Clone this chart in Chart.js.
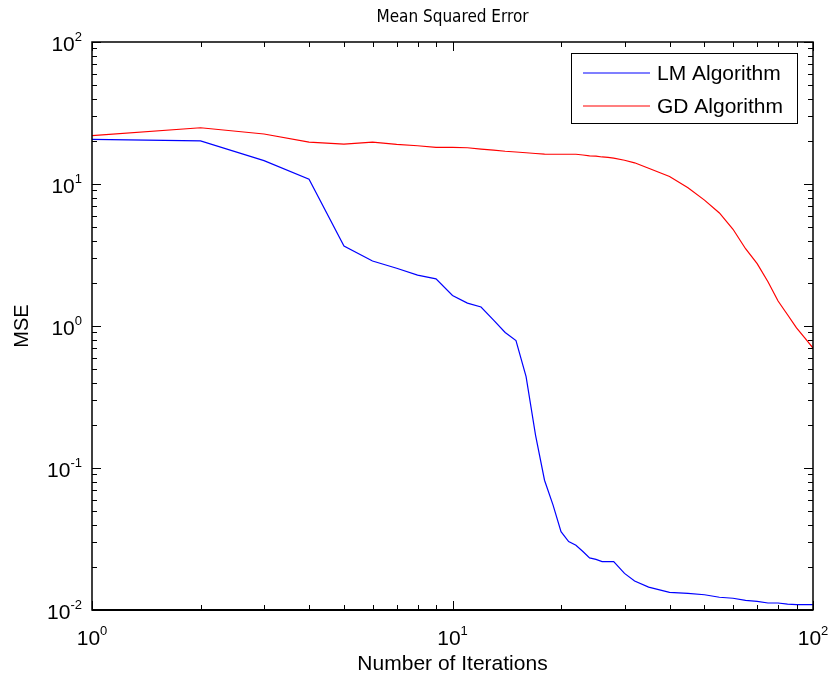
<!DOCTYPE html>
<html>
<head>
<meta charset="utf-8">
<title>Mean Squared Error</title>
<script src="https://cdn.jsdelivr.net/npm/chart.js@4.4.1/dist/chart.umd.min.js"></script>
<style>
  html, body { margin: 0; padding: 0; background: #fff; }
  canvas { display: block; }
</style>
</head>
<body>
<canvas id="mse-chart" width="832" height="682"></canvas>
<script>
// Training error per iteration
var iterations = [1, 2, 3, 4, 5, 6, 7, 8, 9, 10, 11, 12, 13, 14, 15, 16, 17, 18, 19, 20,
    21, 22, 23, 24, 25, 26, 27, 28, 30, 32, 35, 40, 45, 50, 55, 60, 65, 70, 75, 80,
    85, 90, 95, 100];

var lmMse = [20.6, 20.1, 14.6, 10.8, 3.66, 2.87, 2.55, 2.28, 2.15, 1.64, 1.45, 1.36, 1.10, 0.90,
    0.79, 0.44, 0.17, 0.082, 0.055, 0.0356, 0.0303, 0.0286, 0.0258, 0.0233, 0.0227, 0.0219,
    0.0219, 0.0219, 0.0181, 0.0160, 0.0145, 0.0133, 0.0131, 0.0128, 0.0123, 0.0121, 0.0117,
    0.0115, 0.0112, 0.0112, 0.0110, 0.0109, 0.0109, 0.0109];

var gdMse = [21.9, 24.9, 22.5, 19.7, 19.1, 19.7, 19.0, 18.6, 18.1, 18.1, 18.0, 17.6, 17.3, 17.0,
    16.8, 16.6, 16.4, 16.25, 16.2, 16.2, 16.2, 16.2, 16.0, 15.8, 15.7, 15.5, 15.4, 15.2, 14.7,
    14.1, 12.9, 11.3, 9.4, 7.7, 6.25, 4.8, 3.5, 2.75, 2.05, 1.5, 1.2, 0.97, 0.82, 0.70];

var seriesNames = ['LM Algorithm', 'GD Algorithm'];
var seriesColors = ['#0000ff', '#ff0000'];
var chartTitle = 'Mean Squared Error';

// Major ticks (powers of ten) and the exponent shown on each label
var xMajorTicks = [1, 10, 100];
var xTickExponents = ['0', '1', '2'];
var yMajorTicks = [0.01, 0.1, 1, 10, 100];
var yTickExponents = ['-2', '-1', '0', '1', '2'];

var FONT = '"Liberation Sans", Arial, Helvetica, sans-serif';
var TITLE_FONT = '"Liberation Sans Narrow", "DejaVu Sans Condensed", "Liberation Sans", Arial, sans-serif';

function toPoints(values) {
    return iterations.map(function(n, i) {
        return { x: n, y: values[i] };
    });
}

// 2..9 times every decade between the majors
function minorTicks(majors) {
    var out = [];
    for (var i = 0; i < majors.length - 1; i++) {
        for (var m = 2; m <= 9; m++) {
            out.push(majors[i] * m);
        }
    }
    return out;
}

// "10" with a raised exponent, laid out from a left x
function drawPower(ctx, exp, left, baseline) {
    ctx.font = '21px ' + FONT;
    ctx.textAlign = 'left';
    ctx.textBaseline = 'alphabetic';
    var w10 = ctx.measureText('10').width;
    ctx.fillText('10', left, baseline);
    ctx.font = '13px ' + FONT;
    ctx.fillText(exp, left + w10, baseline - 10);
}

function powerWidth(ctx, exp) {
    ctx.font = '21px ' + FONT;
    var w = ctx.measureText('10').width;
    ctx.font = '13px ' + FONT;
    return w + ctx.measureText(exp).width;
}

// MATLAB-like box: inward ticks on all four sides, power labels, title, legend
var framePlugin = {
    id: 'matlabFrame',
    afterDraw: function(chart) {
        var ctx = chart.ctx;
        var a = chart.chartArea;
        var xs = chart.scales.x;
        var ys = chart.scales.y;

        ctx.save();
        ctx.strokeStyle = '#000';
        ctx.fillStyle = '#000';
        ctx.lineWidth = 1;

        // ticks
        ctx.beginPath();
        function xTick(v, len) {
            var px = Math.round(xs.getPixelForValue(v)) + 0.5;
            ctx.moveTo(px, a.bottom); ctx.lineTo(px, a.bottom - len);
            ctx.moveTo(px, a.top); ctx.lineTo(px, a.top + len);
        }
        function yTick(v, len) {
            var py = Math.round(ys.getPixelForValue(v)) + 0.5;
            ctx.moveTo(a.left, py); ctx.lineTo(a.left + len, py);
            ctx.moveTo(a.right, py); ctx.lineTo(a.right - len, py);
        }
        xMajorTicks.forEach(function(v) { xTick(v, 9); });
        minorTicks(xMajorTicks).forEach(function(v) { xTick(v, 5); });
        yMajorTicks.forEach(function(v) { yTick(v, 9); });
        minorTicks(yMajorTicks).forEach(function(v) { yTick(v, 5); });
        ctx.stroke();

        // box
        ctx.lineWidth = 1.5;
        ctx.strokeRect(a.left, a.top, a.right - a.left, a.bottom - a.top);
        ctx.lineWidth = 2;
        ctx.beginPath();
        ctx.moveTo(a.left, a.bottom);
        ctx.lineTo(a.right, a.bottom);
        ctx.stroke();

        // tick labels
        xMajorTicks.forEach(function(v, i) {
            var px = xs.getPixelForValue(v);
            var w = powerWidth(ctx, xTickExponents[i]);
            drawPower(ctx, xTickExponents[i], px - w / 2, a.bottom + 35);
        });
        yMajorTicks.forEach(function(v, i) {
            var py = ys.getPixelForValue(v);
            var w = powerWidth(ctx, yTickExponents[i]);
            drawPower(ctx, yTickExponents[i], a.left - 10 - w, py + 8.5);
        });

        // title, centred over the axes box
        ctx.font = '17px ' + TITLE_FONT;
        ctx.textAlign = 'center';
        ctx.textBaseline = 'middle';
        ctx.fillText(chartTitle, (a.left + a.right) / 2, 18);

        // legend box
        var lx = 571, ly = 53, lw = 226, lh = 70;
        ctx.fillStyle = '#fff';
        ctx.fillRect(lx, ly, lw, lh);
        ctx.strokeStyle = '#000';
        ctx.lineWidth = 1;
        ctx.strokeRect(lx + 0.5, ly + 0.5, lw, lh);
        chart.data.datasets.forEach(function(ds, i) {
            var rowY = ly + 20 + i * 33;
            ctx.strokeStyle = ds.borderColor;
            ctx.lineWidth = 1.2;
            ctx.beginPath();
            ctx.moveTo(lx + 12, rowY);
            ctx.lineTo(lx + 79, rowY);
            ctx.stroke();
            ctx.fillStyle = '#000';
            ctx.font = '21px ' + FONT;
            ctx.textAlign = 'left';
            ctx.textBaseline = 'middle';
            ctx.fillText(ds.label, lx + 86, rowY + 1);
        });

        ctx.restore();
    }
};

var chart = new Chart(document.getElementById('mse-chart'), {
    type: 'line',
    data: {
        datasets: [{
            label: seriesNames[0],
            data: toPoints(lmMse),
            borderColor: seriesColors[0],
            borderWidth: 1.2,
            pointRadius: 0,
            tension: 0
        }, {
            label: seriesNames[1],
            data: toPoints(gdMse),
            borderColor: seriesColors[1],
            borderWidth: 1.2,
            pointRadius: 0,
            tension: 0
        }]
    },
    options: {
        responsive: false,
        animation: false,
        devicePixelRatio: 1,
        layout: { padding: { left: 0, right: 19, top: 42, bottom: 0 } },
        plugins: {
            legend: { display: false },
            tooltip: { enabled: false },
            title: { display: false }
        },
        scales: {
            x: {
                type: 'logarithmic',
                min: 1,
                max: 100,
                grid: { display: false, drawTicks: false },
                border: { display: false },
                ticks: { display: false },
                title: {
                    display: true,
                    text: 'Number of Iterations',
                    color: '#000',
                    font: { family: FONT, size: 21, lineHeight: 1.2 },
                    padding: { top: 0, bottom: 5 }
                },
                afterFit: function(scale) { scale.height = 72; }
            },
            y: {
                type: 'logarithmic',
                min: 0.01,
                max: 100,
                grid: { display: false, drawTicks: false },
                border: { display: false },
                ticks: { display: false },
                title: {
                    display: true,
                    text: 'MSE',
                    color: '#000',
                    font: { family: FONT, size: 20, lineHeight: 1.2 },
                    padding: { top: 10, bottom: 0 }
                },
                afterFit: function(scale) { scale.width = 92; }
            }
        }
    },
    plugins: [framePlugin]
});
</script>
</body>
</html>
